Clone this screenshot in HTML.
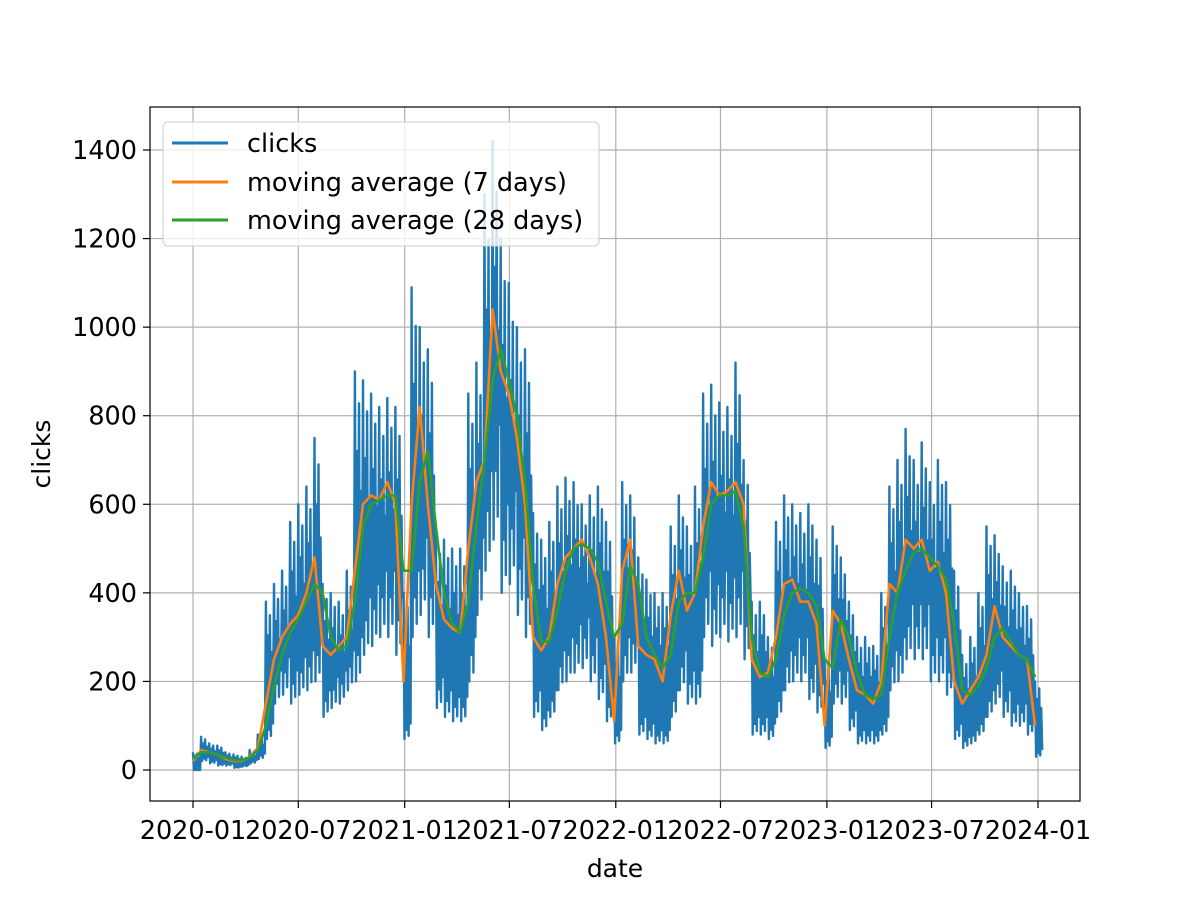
<!DOCTYPE html>
<html><head><meta charset="utf-8"><style>
body{margin:0;background:#fff}
svg{display:block;font-family:"DejaVu Sans","Liberation Sans",sans-serif}
</style></head><body>
<svg id="chart" width="1200" height="900" viewBox="0 0 1200 900" xmlns="http://www.w3.org/2000/svg">
<rect width="1200" height="900" fill="#fff"/>
<g id="grid"></g>
<g id="series"></g>
<rect x="150" y="107" width="930" height="694" fill="none" stroke="#000" stroke-width="1.2"/>
<g id="ticks"></g>
<text x="615" y="877" font-size="25" text-anchor="middle">date</text>
<text x="50" y="454" font-size="25" text-anchor="middle" transform="rotate(-90 50 454)">clicks</text>
<g>
<rect x="163" y="122" width="436" height="124" rx="5" fill="#fff" fill-opacity="0.8" stroke="#ccc" stroke-width="1"/>
<line x1="172" y1="143" x2="228" y2="143" stroke="#1f77b4" stroke-width="3"/>
<text x="247" y="152" font-size="25.5">clicks</text>
<line x1="172" y1="182" x2="228" y2="182" stroke="#ff7f0e" stroke-width="3"/>
<text x="247" y="191" font-size="25.5">moving average (7 days)</text>
<line x1="172" y1="220" x2="228" y2="220" stroke="#2ca02c" stroke-width="3"/>
<text x="247" y="229" font-size="25.5">moving average (28 days)</text>
</g>
</svg>
<script>
const xTickLabels=["2020-01","2020-07","2021-01","2021-07","2022-01","2022-07","2023-01","2023-07","2024-01"];
const xTickDays=[0,182,366,547,731,912,1096,1277,1461];
const yTicks=[0,200,400,600,800,1000,1200,1400];
const clicksHi=[40,75,60,55,40,35,30,45,80,380,420,450,560,600,640,750,420,400,380,450,900,880,850,820,840,820,400,1090,1000,950,530,520,500,500,850,920,1300,1420,1200,1100,1000,950,580,520,560,640,660,650,600,620,640,560,300,650,620,480,430,400,400,550,620,550,640,850,870,830,820,920,700,380,380,300,560,620,600,580,600,520,250,550,480,380,300,300,280,400,640,700,770,700,740,650,700,650,450,260,300,400,550,530,460,450,400,370,200];
const clicksLo=[0,20,15,10,10,5,8,15,25,70,150,170,150,170,180,200,120,140,150,180,200,260,280,300,300,260,70,300,350,300,140,120,110,110,200,350,450,520,400,420,350,300,120,90,120,180,200,220,230,200,160,110,60,200,220,80,70,60,60,120,180,150,150,300,280,300,290,300,250,80,80,70,120,180,200,200,160,130,50,150,150,90,60,60,60,80,180,200,250,250,250,200,200,170,70,50,60,80,120,150,120,100,100,80,30];
const ma7=[20,45,40,35,25,20,20,30,50,150,250,300,330,350,400,480,280,260,280,300,450,600,620,610,650,600,200,600,820,600,420,340,320,310,500,650,700,1040,900,850,750,600,300,270,300,420,480,500,520,480,420,300,110,450,520,280,260,250,200,350,450,360,400,550,650,620,630,650,600,250,210,220,300,420,430,380,380,330,100,360,330,250,180,170,150,200,420,400,520,500,520,450,470,400,200,150,180,210,260,370,300,280,260,250,100];
const ma28=[25,40,40,35,28,22,22,28,45,100,190,260,310,340,380,420,400,300,270,280,380,550,600,610,620,620,450,450,650,720,550,400,330,310,380,550,700,880,950,880,800,650,420,290,290,360,450,500,510,500,470,380,300,330,460,420,300,260,230,260,380,400,400,480,600,620,620,630,550,300,220,210,250,350,400,410,400,370,250,230,340,300,220,170,160,170,300,400,450,490,500,480,460,430,330,180,170,190,230,300,320,290,260,250,210];
const NS='http://www.w3.org/2000/svg';
const X=d=>193+d*(845/1461);
const Y=v=>770-v*(620/1400);
const grid=document.getElementById('grid'),ticks=document.getElementById('ticks'),series=document.getElementById('series');
function mk(tag,attrs,parent){const e=document.createElementNS(NS,tag);for(const k in attrs)e.setAttribute(k,attrs[k]);parent.appendChild(e);return e;}
xTickDays.forEach((d,i)=>{
  const gl=mk('line',{x1:X(d),x2:X(d),y1:107,y2:801,stroke:'#b0b0b0','stroke-width':1.2},grid);
  
  
  const tk=mk('line',{x1:X(d),x2:X(d),y1:801,y2:808,stroke:'#000','stroke-width':1.2},ticks);
  
  
  const t=mk('text',{x:X(d),y:839,'font-size':25.5,'text-anchor':'middle'},ticks);
  t.textContent=xTickLabels[i];
  
  
});
yTicks.forEach(v=>{
  const gl=mk('line',{x1:150,x2:1080,y1:Y(v),y2:Y(v),stroke:'#b0b0b0','stroke-width':1.2},grid);
  
  
  const tk=mk('line',{x1:143,x2:150,y1:Y(v),y2:Y(v),stroke:'#000','stroke-width':1.2},ticks);
  
  
  const t=mk('text',{x:137,y:Y(v)+9,'font-size':25.5,'text-anchor':'end'},ticks);
  t.textContent=v;
  
  
});
const hf=[1,0.8,0.92,0.7];
const lf=[1,1.3,1.1,1.5];
let pc=[];
clicksHi.forEach((h,i)=>{
  const d=i*14;
  for(let k=0;k<4;k++){
    pc.push([X(d+k*3.5),Y(h*hf[k])],[X(d+k*3.5+1.75),Y(clicksLo[i]*lf[k])]);
  }
});
const pth=a=>'M'+a.map(p=>p[0].toFixed(1)+','+p[1].toFixed(1)).join('L');
const c=mk('path',{d:pth(pc),fill:'none',stroke:'#1f77b4','stroke-width':2.4,'stroke-linejoin':'round'},series);


const m7=mk('path',{d:pth(ma7.map((v,i)=>[X(i*14),Y(v)])),fill:'none',stroke:'#ff7f0e','stroke-width':2.6,'stroke-linejoin':'round'},series);


const m28=mk('path',{d:pth(ma28.map((v,i)=>[X(i*14),Y(v)])),fill:'none',stroke:'#2ca02c','stroke-width':2.6,'stroke-linejoin':'round'},series);


</script>
</body></html>
